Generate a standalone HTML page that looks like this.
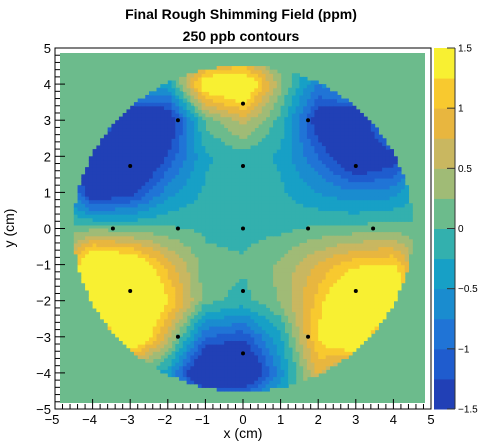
<!DOCTYPE html>
<html><head><meta charset="utf-8"><style>
body{margin:0;background:#fff;}
svg{display:block;font-family:"Liberation Sans",sans-serif;}
</style></head><body>
<svg id="chart" width="495" height="444" viewBox="0 0 495 444">
<text x="241" y="19" text-anchor="middle" font-size="14" font-weight="bold">Final Rough Shimming Field (ppm)</text>
<text x="241" y="41" text-anchor="middle" font-size="14" font-weight="bold">250 ppb contours</text>
<g id="plot"></g>
<g id="pts"></g>
<g id="axes"></g>
<g id="cbar"></g>
<text x="243" y="438" text-anchor="middle" font-size="14">x (cm)</text>
<text x="14" y="228" text-anchor="middle" font-size="14" transform="rotate(-90 14 228)">y (cm)</text>
</svg>
<script>
// grid coordinates (cm)
const gridX = [-5,-4,-3,-2,-1,0,1,2,3,4,5];
const gridY = [5,4,3,2,1,0,-1,-2,-3,-4,-5];
// field values (ppm) row by row, y = 5 .. -5
const row5  = [0,0,0,0,0,0,0,0,0,0,0];
const row4  = [0,0,0,-0.4,1.6,1.9,0.3,-0.8,0,0,0];
const row3  = [0,0,-2.0,-1.7,0.1,0.6,-0.1,-1.5,-2.0,0,0];
const row2  = [0,-2.0,-2.2,-1.2,-0.3,-0.1,-0.3,-1.0,-1.8,-1.5,0];
const row1  = [0,-1.6,-1.4,-0.6,-0.2,-0.1,-0.2,-0.5,-0.7,-0.6,0];
const row0  = [0,0.2,0.1,0.05,-0.05,-0.1,-0.05,0.05,0.1,0.15,0];
const rowm1 = [0,2.0,1.8,0.9,0.1,0.05,0.3,0.8,1.2,1.3,0];
const rowm2 = [0,2.2,2.2,1.3,0.1,-0.1,0.3,1.1,2.1,2.0,0];
const rowm3 = [0,0,2.0,0.6,-1.0,-1.2,-0.3,1.3,2.0,0,0];
const rowm4 = [0,0,0,-0.4,-2.1,-2.1,-0.6,0.8,0,0,0];
const rowm5 = [0,0,0,0,0,0,0,0,0,0,0];
const field = [row5,row4,row3,row2,row1,row0,rowm1,rowm2,rowm3,rowm4,rowm5];
const levels = [-1.5,-1.25,-1,-0.75,-0.5,-0.25,0,0.25,0.5,0.75,1,1.25,1.5];
const palette = ["#2140b6","#1f5cce","#2074d6","#1a8ccf","#17a0c6","#33b0ae","#6cbb8c","#a0bb76","#c9b760","#e8b63f","#f8c92f","#f8f032"];
const ptsX = [0,-1.73,1.73,-3,0,3,-3.46,-1.73,0,1.73,3.46,-3,0,3,-1.73,1.73,0];
const ptsY = [3.46,3,3,1.73,1.73,1.73,0,0,0,0,0,-1.73,-1.73,-1.73,-3,-3,-3.46];
const xTicks = [-5,-4,-3,-2,-1,0,1,2,3,4,5];
const yTicks = [5,4,3,2,1,0,-1,-2,-3,-4,-5];
const cbTicks = [1.5,1,0.5,0,-0.5,-1,-1.5];

const L=55,R=431,T=48,B=409;
const sx=x=>L+(x+5)/10*(R-L);
const sy=y=>T+(5-y)/10*(B-T);
const NS="http://www.w3.org/2000/svg";
function mk(tag,attrs,parent){const e=document.createElementNS(NS,tag);for(const k in attrs)e.setAttribute(k,attrs[k]);parent.appendChild(e);return e;}
function val(x,y){
  const fx=x+5, fy=5-y;
  const i=Math.min(9,Math.floor(fx)), j=Math.min(9,Math.floor(fy));
  const tx=fx-i, ty=fy-j;
  const a=field[j][i],b=field[j][i+1],c=field[j+1][i],d=field[j+1][i+1];
  return a*(1-tx)*(1-ty)+b*tx*(1-ty)+c*(1-tx)*ty+d*tx*ty;
}
function colorFor(v){
  let k=0;while(k<palette.length-1&&v>=levels[k+1])k++;return palette[k];
}
const plot=document.getElementById('plot');
const bg=mk('rect',{x:60,y:53,width:365,height:350,fill:"#6cbb8c"},plot);


const step=0.1;
for(let gx=-4.6;gx<4.6;gx+=step){
  for(let gy=-4.6;gy<4.6;gy+=step){
    const cx=gx+step/2, cy=gy+step/2;
    if(cx*cx+cy*cy>4.5*4.5)continue;
    const c=colorFor(val(cx,cy));
    if(c==="#6cbb8c")continue;
    const r=mk('rect',{x:sx(gx).toFixed(2),y:sy(gy+step).toFixed(2),width:(step*37.6+0.6).toFixed(2),height:(step*36.1+0.6).toFixed(2),fill:c},plot);
    
    
  }
}
const pts=document.getElementById('pts');
for(let i=0;i<ptsX.length;i++){
  const c=mk('circle',{cx:sx(ptsX[i]),cy:sy(ptsY[i]),r:2,fill:"#000"},pts);
  
  
}
const axes=document.getElementById('axes');
const fr=mk('rect',{x:L,y:T,width:R-L,height:B-T,fill:"none",stroke:"#000","stroke-width":1},axes);


for(let t=-5;t<=5.001;t+=0.2){
  const major=Math.abs(t-Math.round(t))<0.01;
  mk('line',{x1:sx(t),x2:sx(t),y1:B,y2:B-(major?10:5),stroke:"#000"},axes);
  mk('line',{x1:L,x2:L+(major?10:5),y1:sy(t),y2:sy(t),stroke:"#000"},axes);
}
xTicks.forEach(t=>{
  const e=mk('text',{x:sx(t)-(t<0?3:0),y:B+15,"text-anchor":"middle","font-size":13},axes);
  e.textContent=t<0?"\u2212"+(-t):String(t);
  
  
});
yTicks.forEach(t=>{
  const e=mk('text',{x:L-4,y:sy(t)+5,"text-anchor":"end","font-size":13},axes);
  e.textContent=t<0?"\u2212"+(-t):String(t);
  
  
});
const cbar=document.getElementById('cbar');
const CL=434,CR=455;
const cy=v=>B-(v+1.5)/3*(B-T);
for(let k=0;k<palette.length;k++){
  const r=mk('rect',{x:CL,y:cy(levels[k+1]),width:CR-CL,height:cy(levels[k])-cy(levels[k+1])+0.5,fill:palette[k]},cbar);
  
  
}
cbTicks.forEach(t=>{
  mk('line',{x1:CR-8,x2:CR,y1:cy(t),y2:cy(t),stroke:"#333"},cbar);
  const e=mk('text',{x:CR+3,y:cy(t)+3.5,"font-size":10},cbar);
  e.textContent=t<0?"\u2212"+(-t):String(t);
  
  
});
mk('line',{x1:CR,x2:CR,y1:T,y2:B,stroke:"#333"},cbar);
</script>
</body></html>
